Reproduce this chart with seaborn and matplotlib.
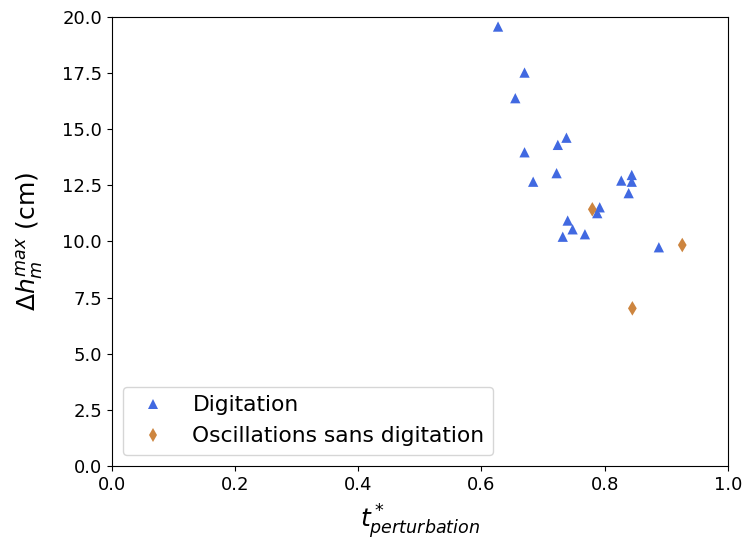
import pandas as pd
import seaborn as sns
import matplotlib
matplotlib.use("Agg")
import matplotlib.pyplot as plt

# Digitation points
dig_t = [0.627, 0.670, 0.655, 0.738, 0.724, 0.670, 0.722, 0.684, 0.827, 0.844,
         0.844, 0.839, 0.792, 0.788, 0.740, 0.748, 0.768, 0.732, 0.888]
dig_h = [19.57, 17.52, 16.38, 14.62, 14.30, 13.97, 13.04, 12.66, 12.71, 12.96,
         12.66, 12.15, 11.52, 11.26, 10.93, 10.54, 10.32, 10.21, 9.74]

# Oscillations without digitation
osc_t = [0.780, 0.926, 0.845]
osc_h = [11.43, 9.84, 7.02]

labels = ["Digitation", "Oscillations sans digitation"]

df = pd.DataFrame({
    "t": dig_t + osc_t,
    "h": dig_h + osc_h,
    "type": [labels[0]] * len(dig_t) + [labels[1]] * len(osc_t),
})

fig = plt.figure(figsize=(7.45, 5.45), dpi=100)
ax = fig.add_axes([0.150, 0.145, 0.827, 0.824])

sns.scatterplot(
    data=df, x="t", y="h", hue="type", style="type",
    palette={labels[0]: "royalblue", labels[1]: "peru"},
    markers={labels[0]: "^", labels[1]: "d"},
    s=55, linewidth=0, ax=ax,
)

ax.set_xlim(0, 1.0)
ax.set_ylim(0, 20.0)
ax.set_xticks([0.0, 0.2, 0.4, 0.6, 0.8, 1.0])
ax.set_yticks([0.0, 2.5, 5.0, 7.5, 10.0, 12.5, 15.0, 17.5, 20.0])
ax.set_xticklabels(["0.0", "0.2", "0.4", "0.6", "0.8", "1.0"])
ax.set_yticklabels(["0.0", "2.5", "5.0", "7.5", "10.0", "12.5", "15.0", "17.5", "20.0"])
ax.tick_params(labelsize=13)
ax.set_xlabel(r"$t^*_{perturbation}$", fontsize=18, labelpad=6)
ax.set_ylabel(r"$\Delta h_m^{max}$ (cm)", fontsize=18, labelpad=12)

leg = ax.legend(loc="lower left", fontsize=15.7, title=None, markerscale=1.0)

fig.savefig("out.png", dpi=100)
